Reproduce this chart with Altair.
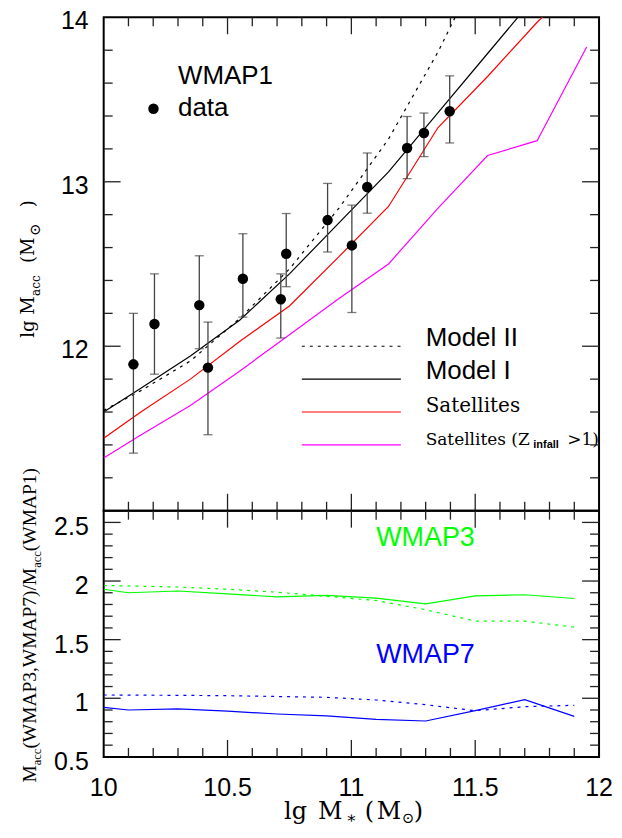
import altair as alt
import pandas as pd

# ---------------- top panel: WMAP1 data points ----------------
pt_mstar = [10.12, 10.205, 10.386, 10.421, 10.562, 10.715, 10.737, 10.904, 11.002, 11.064, 11.225, 11.293, 11.397]
pt_macc = [11.89, 12.135, 12.25, 11.87, 12.41, 12.286, 12.562, 12.767, 12.613, 12.968, 13.205, 13.297, 13.429]
pt_hi = [12.20, 12.44, 12.55, 12.147, 12.684, 12.44, 12.807, 12.99, 12.858, 13.175, 13.397, 13.418, 13.644]
pt_lo = [11.35, 11.83, 11.985, 11.462, 12.177, 12.05, 12.362, 12.573, 12.205, 12.809, 13.019, 13.153, 13.236]

# model curves (lg M_acc) at stellar-mass bins
model_mstar = [10.0, 10.15, 10.35, 10.55, 10.75, 10.95, 11.15, 11.35, 11.55, 11.75, 11.95]
model1 = [11.60, 11.745, 11.94, 12.16, 12.44, 12.75, 13.06, 13.42, 13.78, 14.14]
model2 = [11.61, 11.73, 11.91, 12.17, 12.47, 12.84, 13.26, 13.79, 14.40]
sat = [11.44, 11.60, 11.80, 12.03, 12.245, 12.545, 12.85, 13.33, 13.64, 13.97, 14.27]
sat_z1 = [11.32, 11.46, 11.64, 11.85, 12.07, 12.29, 12.50, 12.84, 13.16, 13.25, 13.82]

# ---------------- bottom panel: ratios ----------------
ratio_mstar = [10.0, 10.1, 10.3, 10.5, 10.7, 10.9, 11.1, 11.3, 11.5, 11.7, 11.9]
w3_model1 = [1.93, 1.90, 1.915, 1.89, 1.865, 1.877, 1.855, 1.806, 1.874, 1.883, 1.851]
w3_model2 = [1.962, 1.958, 1.949, 1.93, 1.905, 1.87, 1.834, 1.755, 1.658, 1.658, 1.607]
w7_model1 = [0.923, 0.90, 0.909, 0.89, 0.866, 0.849, 0.82, 0.806, 0.894, 0.988, 0.846]
w7_model2 = [1.028, 1.027, 1.025, 1.022, 1.015, 1.008, 0.985, 0.945, 0.894, 0.928, 0.94]

# ---------------- tick positions / labels ----------------
x_labels = [10, 10.5, 11, 11.5, 12]
x_label_text = ["10", "10.5", "11", "11.5", "12"]
x_major = [10.5, 11, 11.5]
x_minor = [10.1, 10.2, 10.3, 10.4, 10.6, 10.7, 10.8, 10.9, 11.1, 11.2, 11.3, 11.4, 11.6, 11.7, 11.8, 11.9]
ytop_labels = [12, 13, 14]
ytop_label_text = ["12", "13", "14"]
ytop_major = [12, 13]
ytop_minor = [11.2, 11.4, 11.6, 11.8, 12.2, 12.4, 12.6, 12.8, 13.2, 13.4, 13.6, 13.8]
ybot_labels = [0.5, 1, 1.5, 2, 2.5]
ybot_label_text = ["0.5", "1", "1.5", "2", "2.5"]
ybot_major = [1, 1.5, 2, 2.5]
ybot_minor = [0.6, 0.7, 0.8, 0.9, 1.1, 1.2, 1.3, 1.4, 1.6, 1.7, 1.8, 1.9, 2.1, 2.2, 2.3, 2.4]

W = 497
H_TOP = 495
H_BOT = 247
SANS = "Liberation Sans"
SERIF = "DejaVu Serif"
LSERIF = "Liberation Serif"
TICK_MINOR = 9
TICK_MAJOR = 17

X_DOM = [10, 12]
YTOP_DOM = [11, 14]
YBOT_DOM = [0.5, 2.6]
xs = alt.Scale(domain=X_DOM, nice=False, zero=False)
ys_top = alt.Scale(domain=YTOP_DOM, nice=False, zero=False)
ys_bot = alt.Scale(domain=YBOT_DOM, nice=False, zero=False)

one = pd.DataFrame({"k": [0]})
pts = pd.DataFrame({"mstar": pt_mstar, "val": pt_macc, "lo": pt_lo, "hi": pt_hi})


def sdf(xv, yv):
    return pd.DataFrame({"mstar": xv[: len(yv)], "val": yv})


def X(field):
    return alt.X(field, type="quantitative", scale=xs, axis=None)


def Y(field, ys):
    return alt.Y(field, type="quantitative", scale=ys, axis=None)


def XD(v):
    return alt.XDatum(v, scale=xs, axis=None)


def YD(v, ys):
    return alt.YDatum(v, scale=ys, axis=None)


def line(df, ys, color, dash=None):
    kw = dict(color=color, strokeWidth=1.2, clip=True)
    if dash:
        kw["strokeDash"] = dash
    return alt.Chart(df).mark_line(**kw).encode(x=X("mstar"), y=Y("val", ys))


def ptxt(text, x, y, size, font, angle=0, color="black", weight="normal"):
    return alt.Chart(one).mark_text(
        text=text, font=font, fontSize=size, angle=angle, color=color,
        align="left", baseline="alphabetic", fontWeight=weight,
    ).encode(x=alt.value(x), y=alt.value(y))


def dtxt(text, x, y, ys, size, font, color="black", dx=0, dy=0, weight="normal"):
    return alt.Chart(one).mark_text(
        text=text, font=font, fontSize=size, color=color, align="left",
        baseline="alphabetic", dx=dx, dy=dy, fontWeight=weight,
    ).encode(x=XD(x), y=YD(y, ys))


def lrule(x1, x2, y, ys, color, dash=None):
    kw = dict(color=color, strokeWidth=1.2)
    if dash:
        kw["strokeDash"] = dash
    return alt.Chart(one).mark_rule(**kw).encode(x=XD(x1), x2=alt.X2Datum(x2), y=YD(y, ys))


def tick_sym(shape, ln):
    # symbol path of length ln pixels (unit path scaled by sqrt(size)/2)
    return dict(shape=shape, size=(2 * ln) ** 2, filled=False, color="#222222",
                strokeWidth=1.3, opacity=1)


def frame_ticks(ys, ydom, ymajor, yminor):
    """Inward ticks on all four edges, drawn as one-sided line symbols via the scales."""
    out = []
    for vals, ln in [(yminor, TICK_MINOR), (ymajor, TICK_MAJOR)]:
        d = pd.DataFrame({"val": vals})
        out.append(alt.Chart(d).mark_point(**tick_sym("M0,0L1,0", ln)).encode(
            y=Y("val", ys), x=XD(X_DOM[0])))
        out.append(alt.Chart(d).mark_point(**tick_sym("M0,0L-1,0", ln)).encode(
            y=Y("val", ys), x=XD(X_DOM[1])))
    for vals, ln in [(x_minor, TICK_MINOR), (x_major, TICK_MAJOR)]:
        d = pd.DataFrame({"mstar": vals})
        out.append(alt.Chart(d).mark_point(**tick_sym("M0,0L0,1", ln)).encode(
            x=X("mstar"), y=YD(ydom[1], ys)))
        out.append(alt.Chart(d).mark_point(**tick_sym("M0,0L0,-1", ln)).encode(
            x=X("mstar"), y=YD(ydom[0], ys)))
    return out


def y_tick_labels(vals, texts, ys, offset):
    d = pd.DataFrame({"v": vals, "t": texts})
    return alt.Chart(d).mark_text(
        font=SANS, fontSize=25, color="black", align="right", baseline="middle", dy=offset
    ).encode(y=Y("v", ys), x=alt.value(-15), text="t:N")


def x_tick_labels(vals, texts, H):
    d = pd.DataFrame({"v": vals, "t": texts})
    return alt.Chart(d).mark_text(
        font=SANS, fontSize=25, color="black", align="center", baseline="middle"
    ).encode(x=X("v"), y=alt.value(H + 31), text="t:N")


# ---------------- top panel ----------------
errbars = alt.Chart(pts).mark_rule(color="#444444", strokeWidth=1.3).encode(
    x=X("mstar"), y=Y("lo", ys_top), y2="hi:Q")
cap_lo = alt.Chart(pts).mark_tick(orient="horizontal", size=9, thickness=1.3, color="#444444").encode(
    x=X("mstar"), y=Y("lo", ys_top))
cap_hi = alt.Chart(pts).mark_tick(orient="horizontal", size=9, thickness=1.3, color="#444444").encode(
    x=X("mstar"), y=Y("hi", ys_top))
dots = alt.Chart(pts).mark_circle(size=110, color="black", opacity=1).encode(
    x=X("mstar"), y=Y("val", ys_top))
legend_dot = alt.Chart(one).mark_circle(size=110, color="black", opacity=1).encode(
    x=XD(10.201), y=YD(13.444, ys_top))

top_layers = [
    line(sdf(model_mstar, model2), ys_top, "black", [3, 5]),
    line(sdf(model_mstar, model1), ys_top, "black"),
    line(sdf(model_mstar, sat), ys_top, "#ff0000"),
    line(sdf(model_mstar, sat_z1), ys_top, "#ff00ff"),
    errbars, cap_lo, cap_hi, dots,
    dtxt("WMAP1", 10.30, 13.595, ys_top, 26, SANS),
    dtxt("data", 10.30, 13.40, ys_top, 26, SANS),
    legend_dot,
    lrule(10.80, 11.20, 12.0, ys_top, "black", [3, 5]),
    lrule(10.80, 11.20, 11.8, ys_top, "black"),
    lrule(10.80, 11.20, 11.6, ys_top, "#ff0000"),
    lrule(10.80, 11.20, 11.4, ys_top, "#ff00ff"),
    dtxt("Model II", 11.30, 12.0, ys_top, 26, SANS),
    dtxt("Model I", 11.30, 11.8, ys_top, 26, SANS),
    dtxt("Satellites", 11.30, 11.6, ys_top, 20, SERIF),
    dtxt("Satellites (Z", 11.30, 11.4, ys_top, 17, SERIF),
    dtxt("infall", 11.30, 11.4, ys_top, 11, SANS, dx=108, dy=3, weight="bold"),
    dtxt(">1)", 11.30, 11.4, ys_top, 17, SERIF, dx=142),
    # y title pieces: lg M_acc (M_sun)
    ptxt("lg", -70, 321.5, 18, SERIF, angle=270),
    ptxt("M", -70, 298.5, 18, SERIF, angle=270),
    ptxt("acc", -64, 279.5, 12, SERIF, angle=270),
    ptxt("(M", -70, 246.5, 18, SERIF, angle=270),
    ptxt("\u2299", -64, 219.5, 15, SERIF, angle=270),
    ptxt(")", -70, 190.5, 18, SERIF, angle=270),
    y_tick_labels(ytop_labels, ytop_label_text, ys_top, 4),
] + frame_ticks(ys_top, YTOP_DOM, ytop_major, ytop_minor)

top = alt.layer(*top_layers).properties(width=W, height=H_TOP)

# ---------------- bottom panel ----------------
bot_layers = [
    line(sdf(ratio_mstar, w3_model2), ys_bot, "#00ff00", [3, 5]),
    line(sdf(ratio_mstar, w3_model1), ys_bot, "#00ff00"),
    line(sdf(ratio_mstar, w7_model2), ys_bot, "#0000ff", [3, 5]),
    line(sdf(ratio_mstar, w7_model1), ys_bot, "#0000ff"),
    dtxt("WMAP3", 11.10, 2.296, ys_bot, 27, SANS, color="#00ff00"),
    dtxt("WMAP7", 11.10, 1.30, ys_bot, 27, SANS, color="#0000ff"),
    # x title pieces: lg M_* (M_sun)
    ptxt("lg", 181, 309, 24, SERIF),
    ptxt("M", 215, 309, 24, SERIF),
    ptxt("\u2217", 243, 313.5, 16, SERIF),
    ptxt("(", 262, 309, 24, SERIF),
    ptxt("M", 274, 309, 24, SERIF),
    ptxt("\u2299", 299, 313, 15, SERIF),
    ptxt(")", 311, 309, 24, SERIF),
    # y title pieces: M_acc(WMAP3,WMAP7)/M_acc(WMAP1)
    ptxt("M", -68, 272.7, 19.5, LSERIF, angle=270),
    ptxt("acc", -63, 255.4, 12.5, LSERIF, angle=270),
    ptxt("(WMAP3,WMAP7)/M", -68, 238.7, 19.5, LSERIF, angle=270),
    ptxt("acc", -63, 57.3, 12.5, LSERIF, angle=270),
    ptxt("(WMAP1)", -68, 40.6, 19.5, LSERIF, angle=270),
    y_tick_labels(ybot_labels, ybot_label_text, ys_bot, 5),
    x_tick_labels(x_labels, x_label_text, H_BOT),
] + frame_ticks(ys_bot, YBOT_DOM, ybot_major, ybot_minor)

bot = alt.layer(*bot_layers).properties(width=W, height=H_BOT)

chart = alt.vconcat(top, bot, spacing=0, bounds="flush").properties(
    padding={"left": 10, "top": -1, "right": 0, "bottom": -1}
).configure_view(stroke="black", strokeWidth=2)

chart.save("out.html", embed_options={"renderer": "svg", "actions": False})
